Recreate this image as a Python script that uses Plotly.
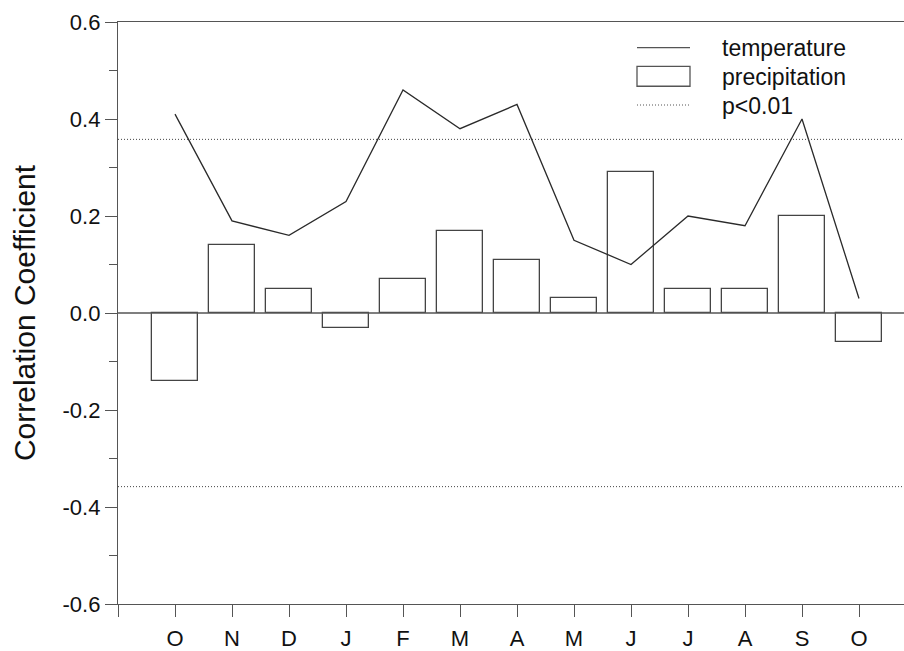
import plotly.graph_objects as go

months = ["O", "N", "D", "J", "F", "M", "A", "M", "J", "J", "A", "S", "O"]
temperature = [0.41, 0.19, 0.16, 0.23, 0.46, 0.38, 0.43, 0.15, 0.10, 0.20, 0.18, 0.40, 0.03]
precipitation = [-0.14, 0.14, 0.05, -0.03, 0.07, 0.17, 0.11, 0.03, 0.29, 0.05, 0.05, 0.20, -0.06]
p_threshold = 0.358

xpos = list(range(len(months)))
LINE = "#2a2a2a"
AX = "#555555"
FONT = "Liberation Sans, Arial, sans-serif"

fig = go.Figure()
fig.add_trace(go.Bar(x=xpos, y=precipitation, width=0.8,
                     marker=dict(color="white", line=dict(color="#444444", width=1.3)),
                     showlegend=False))
fig.add_trace(go.Scatter(x=xpos, y=temperature, mode="lines",
                         line=dict(color=LINE, width=1.3), showlegend=False))
for v in (p_threshold, -p_threshold):
    fig.add_trace(go.Scatter(x=[-1, 13], y=[v, v], mode="lines",
                             line=dict(color="#444444", width=1, dash="1px,2px"),
                             showlegend=False))

# zero line
fig.add_shape(type="line", xref="paper", yref="y", x0=0, x1=1, y0=0, y1=0,
              line=dict(color=AX, width=1.3))

# manual legend (paper coords relative to plot area)
L, R, T, B = 118, 904, 22, 611
def px(x):
    return (x - L) / (R - L)
def py(y):
    return (B - y) / (B - T)
lx0, lx1 = 637, 690
fig.add_shape(type="line", xref="paper", yref="paper", x0=px(lx0), x1=px(lx1),
              y0=py(48), y1=py(48), line=dict(color=AX, width=1.3))
fig.add_shape(type="rect", xref="paper", yref="paper", x0=px(lx0), x1=px(lx1),
              y0=py(67), y1=py(87), line=dict(color=AX, width=1.3), fillcolor="white")
fig.add_shape(type="line", xref="paper", yref="paper", x0=px(lx0), x1=px(lx1),
              y0=py(106), y1=py(106), line=dict(color=AX, width=1, dash="1px,2px"))
for txt, yy in (("temperature", 48), ("precipitation", 78), ("p<0.01", 107)):
    fig.add_annotation(text=txt, xref="paper", yref="paper", x=px(720), y=py(yy),
                       xanchor="left", yanchor="middle", showarrow=False,
                       font=dict(size=23, color="#111111", family=FONT))

fig.update_layout(
    width=904, height=651,
    margin=dict(l=118, r=0, t=22, b=40),
    paper_bgcolor="white", plot_bgcolor="white",
    font=dict(family=FONT, color="#111111", size=22),
    bargap=0,
)
fig.update_xaxes(range=[-1, -1 + 786 / 57], tickvals=list(range(-1, 14)),
                 ticktext=[""] + months + [""], ticks="outside", ticklen=12,
                 tickcolor=AX, showline=True, linecolor=AX, linewidth=1.3,
                 mirror=True, showgrid=False, zeroline=False,
                 tickfont=dict(size=22), ticklabelstandoff=2)
fig.update_yaxes(range=[-0.6, 0.6], tickvals=[-0.6, -0.4, -0.2, 0.0, 0.2, 0.4, 0.6],
                 ticktext=["-0.6", "-0.4", "-0.2", "0.0", "0.2", "0.4", "0.6"],
                 ticks="outside", ticklen=12, tickcolor=AX,
                 minor=dict(tickvals=[-0.5, -0.3, -0.1, 0.1, 0.3, 0.5], ticks="outside",
                            ticklen=8, tickcolor=AX),
                 showline=True, linecolor=AX, linewidth=1.3, showgrid=False,
                 zeroline=False, tickfont=dict(size=22),
                 title=dict(text="Correlation Coefficient", font=dict(size=30), standoff=18))

fig.write_html("out.html", config={"displayModeBar": False},
               post_script="document.body.style.margin='0';")
